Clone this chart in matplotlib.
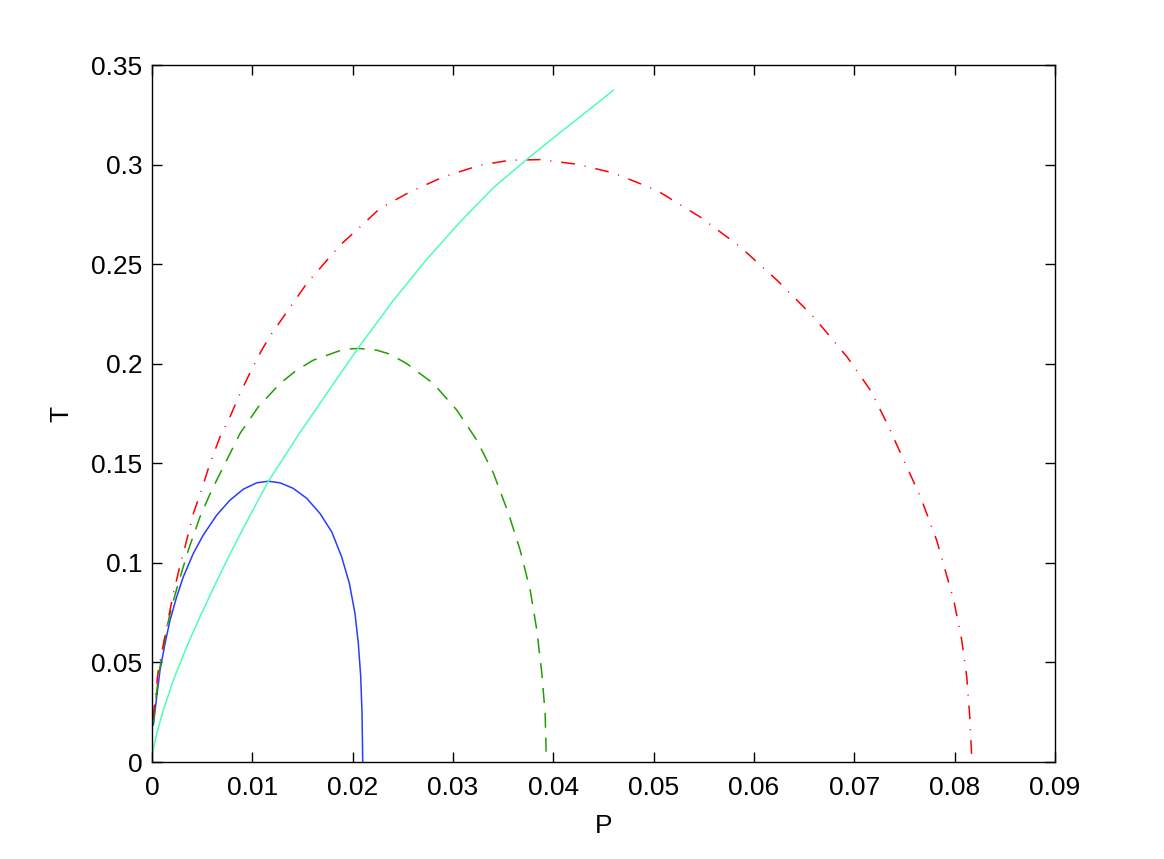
import numpy as np
import matplotlib
matplotlib.use('Agg')
import matplotlib.pyplot as plt

plt.rcParams['font.family'] = ['Liberation Sans', 'DejaVu Sans']

# values
P_blue = [0.00013, 0.00047, 0.0008, 0.0013, 0.0018, 0.00246, 0.00312, 0.00412,
          0.00511, 0.00645, 0.00777, 0.0091, 0.01043, 0.0116, 0.01276, 0.01408,
          0.01542, 0.01674, 0.01791, 0.0189, 0.01967, 0.02023, 0.02056, 0.0208,
          0.02093, 0.021]
T_blue = [0.0186, 0.0328, 0.0462, 0.0596, 0.0713, 0.083, 0.093, 0.1048,
          0.114, 0.124, 0.1315, 0.137, 0.1402, 0.141, 0.1402, 0.1374,
          0.1324, 0.1248, 0.1156, 0.103, 0.0897, 0.0746, 0.0596, 0.0428,
          0.0244, 0.0]

P_green = [0.00013, 0.00063, 0.00146, 0.00196, 0.00262, 0.00362, 0.00478, 0.00595,
           0.00711, 0.00877, 0.0106, 0.01276, 0.01442, 0.01608, 0.01907, 0.02056,
           0.0224, 0.02372, 0.0254, 0.02805, 0.03038, 0.03237, 0.03403, 0.03553,
           0.03669, 0.03769, 0.03835, 0.03885, 0.03918, 0.03928]
T_green = [0.0194, 0.0428, 0.0671, 0.078, 0.0897, 0.1064, 0.1231, 0.1365,
           0.1482, 0.165, 0.1784, 0.1901, 0.1968, 0.2018, 0.2072, 0.2077,
           0.2068, 0.2048, 0.2, 0.19, 0.1767, 0.1616, 0.145, 0.1248,
           0.1064, 0.0863, 0.0663, 0.0445, 0.0244, 0.0052]

P_red = [0.0001, 0.0006, 0.00146, 0.00213, 0.00272, 0.00329, 0.00412, 0.00495,
         0.00578, 0.00678, 0.00777, 0.00877, 0.00994, 0.01093, 0.01176, 0.01542,
         0.01874, 0.02073, 0.02272, 0.02571, 0.02903, 0.03269, 0.03568, 0.03867,
         0.04233, 0.04598, 0.0503, 0.05463, 0.05862, 0.06228, 0.06594, 0.06926,
         0.0716, 0.07326, 0.07492, 0.0766, 0.0782, 0.0799, 0.0807, 0.0812,
         0.0815, 0.0817]
T_red = [0.022, 0.045, 0.0679, 0.0847, 0.0972, 0.1081, 0.1248, 0.1369,
         0.15, 0.1633, 0.1733, 0.185, 0.1973, 0.2068, 0.2139, 0.2403,
         0.2595, 0.2687, 0.278, 0.2863, 0.2938, 0.2997, 0.3022, 0.3025,
         0.3002, 0.2958, 0.2871, 0.2737, 0.2587, 0.242, 0.2235, 0.2035,
         0.1867, 0.17, 0.1516, 0.133, 0.1114, 0.0813, 0.0612, 0.0428,
         0.0227, 0.0019]

P_cyan = [0.0, 0.00047, 0.00113, 0.00213, 0.00346, 0.00478, 0.00645, 0.0081,
          0.00977, 0.0116, 0.01475, 0.01774, 0.02073, 0.02405, 0.02738, 0.0307,
          0.03402, 0.03751, 0.04067, 0.04399, 0.04598]
T_cyan = [0.0035, 0.0144, 0.0261, 0.0412, 0.0579, 0.0729, 0.0909, 0.1077,
          0.1239, 0.141, 0.1655, 0.1875, 0.2092, 0.2318, 0.2524, 0.2712,
          0.2884, 0.3033, 0.3161, 0.3293, 0.3373]

fig = plt.figure(figsize=(11.64, 8.59), dpi=100)
ax = fig.add_axes([0.1306, 0.1129, 0.7758, 0.8114])

ax.plot(P_blue, T_blue, color='#2a3cff', lw=1.1)
ax.plot(P_green, T_green, color='#1f9e00', lw=1.1, linestyle=(0, (9.8, 6.5)))
ax.plot(P_red, T_red, color='#ff0000', lw=1.1, linestyle=(0, (9, 6.5, 0.7, 6.5)))
ax.plot(P_cyan, T_cyan, color='#4dffb0', lw=1.1)

ax.set_xlim(0, 0.09)
ax.set_ylim(0, 0.35)
ax.set_xticks(np.arange(0, 0.091, 0.01))
ax.set_yticks(np.arange(0, 0.351, 0.05))
ax.set_xticklabels(['0', '0.01', '0.02', '0.03', '0.04', '0.05', '0.06', '0.07', '0.08', '0.09'])
ax.set_yticklabels(['0', '0.05', '0.1', '0.15', '0.2', '0.25', '0.3', '0.35'])
ax.tick_params(direction='in', top=True, right=True, length=7, width=1, labelsize=19)
ax.tick_params(axis='x', pad=10)
ax.tick_params(axis='y', pad=7)
for s in ax.spines.values():
    s.set_linewidth(1)
ax.set_xlabel('P', fontsize=19, labelpad=10)
ax.set_ylabel('T', fontsize=19, labelpad=13)

fig.savefig('out.png', dpi=100)
